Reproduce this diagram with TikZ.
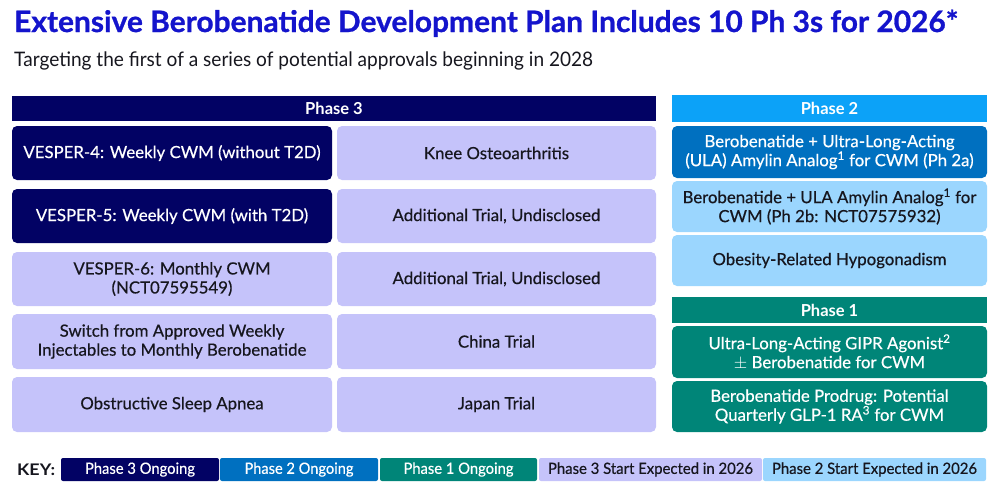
\documentclass[tikz,border=0pt]{standalone}
\usepackage{fontspec}
\usepackage{graphicx}
\setmainfont{Lato}
\newfontfamily\bodyfont{Lato}[FakeBold=0.45]
\definecolor{navy}{RGB}{2,2,100}
\definecolor{ptwo}{RGB}{0,112,192}
\definecolor{ptwohead}{RGB}{12,162,248}
\definecolor{lightblue}{RGB}{155,214,254}
\definecolor{teal}{RGB}{0,133,120}
\definecolor{lavender}{RGB}{197,195,250}
\definecolor{titleblue}{RGB}{20,20,204}
\definecolor{darktext}{RGB}{22,22,30}
\newcommand{\fitw}[2]{\resizebox{#1}{\height}{#2}}
\tikzset{
  cell/.style={rounded corners=5pt, inner sep=0pt, align=center,
    font=\fontsize{16.8}{19}\bodyfont},
  hdr/.style={inner sep=0pt, align=center, text=white,
    font=\fontsize{16.5}{19}\selectfont\bfseries},
  keybox/.style={rounded corners=2pt, inner sep=0pt, align=center,
    minimum height=23pt, font=\fontsize{15.5}{16}\bodyfont},
  dark/.style={fill=navy, text=white},
  mid/.style={fill=ptwo, text=white},
  tl/.style={fill=teal, text=white},
  lav/.style={fill=lavender, text=darktext},
  lb/.style={fill=lightblue, text=darktext},
}
\begin{document}
\begin{tikzpicture}[x=1pt,y=-1pt]
\useasboundingbox (0,0) rectangle (998,488);
% title
\node[anchor=base west, inner sep=0pt, text=titleblue,
  font=\fontsize{29.5}{32}\selectfont\bfseries\addfontfeature{FakeBold=0.9}] (title) at (14,32)
  {\fitw{944pt}{Extensive Berobenatide Development Plan Includes 10 Ph 3s for 2026*}};
\node[anchor=base west, inner sep=0pt, text=darktext,
  font=\fontsize{20}{22}\selectfont] (subtitle) at (14,66)
  {\fitw{579pt}{Targeting the first of a series of potential approvals beginning in 2028}};
% Phase 3 header
\node[hdr, fill=navy, minimum width=644pt, minimum height=25pt] (p3h) at (334,108.5) {Phase 3};
% Phase 3 left column
\node[cell, dark, minimum width=320pt, minimum height=54pt] (l1) at (172,153) {VESPER-4: Weekly CWM (without T2D)};
\node[cell, dark, minimum width=320pt, minimum height=54pt] (l2) at (172,216) {VESPER-5: Weekly CWM (with T2D)};
\node[cell, lav, minimum width=320pt, minimum height=54pt] (l3) at (172,279) {VESPER-6: Monthly CWM\\(NCT07595549)};
\node[cell, lav, minimum width=320pt, minimum height=55pt] (l4) at (172,341.5) {Switch from Approved Weekly\\Injectables to Monthly Berobenatide};
\node[cell, lav, minimum width=320pt, minimum height=55pt] (l5) at (172,404.5) {Obstructive Sleep Apnea};
% Phase 3 right column
\node[cell, lav, minimum width=319pt, minimum height=54pt] (r1) at (496.5,153) {Knee Osteoarthritis};
\node[cell, lav, minimum width=319pt, minimum height=54pt] (r2) at (496.5,216) {Additional Trial, Undisclosed};
\node[cell, lav, minimum width=319pt, minimum height=54pt] (r3) at (496.5,279) {Additional Trial, Undisclosed};
\node[cell, lav, minimum width=319pt, minimum height=55pt] (r4) at (496.5,341.5) {China Trial};
\node[cell, lav, minimum width=319pt, minimum height=55pt] (r5) at (496.5,404.5) {Japan Trial};
% Phase 2
\node[hdr, fill=ptwohead, minimum width=315pt, minimum height=27pt] (p2h) at (829.5,108.5) {Phase 2};
\node[cell, mid, minimum width=315pt, minimum height=52pt] (a1) at (829.5,152) {Berobenatide + Ultra-Long-Acting\\(ULA) Amylin Analog\textsuperscript{1} for CWM (Ph 2a)};
\node[cell, lb, minimum width=315pt, minimum height=51pt] (a2) at (829.5,206.5) {Berobenatide + ULA Amylin Analog\textsuperscript{1} for\\CWM (Ph 2b: NCT07575932)};
\node[cell, lb, minimum width=315pt, minimum height=51pt] (a3) at (829.5,260.5) {Obesity-Related Hypogonadism};
% Phase 1
\node[hdr, fill=teal, minimum width=315pt, minimum height=26pt] (p1h) at (829.5,310) {Phase 1};
\node[cell, tl, minimum width=315pt, minimum height=52pt] (b1) at (829.5,352) {Ultra-Long-Acting GIPR Agonist\textsuperscript{2}\\$\pm$ Berobenatide for CWM};
\node[cell, tl, minimum width=315pt, minimum height=51pt] (b2) at (829.5,406.5) {Berobenatide Prodrug: Potential\\Quarterly GLP-1 RA\textsuperscript{3} for CWM};
% Key
\node[anchor=west, inner sep=0pt, text=darktext, font=\fontsize{16}{16}\selectfont\bfseries] (key) at (17,469.5) {\fitw{38pt}{KEY:}};
\node[keybox, dark, minimum width=158pt] (k1) at (140,469.5) {\fitw{110pt}{Phase 3 Ongoing}};
\node[keybox, mid, minimum width=158pt] (k2) at (299,469.5) {\fitw{109pt}{Phase 2 Ongoing}};
\node[keybox, tl, minimum width=157pt] (k3) at (458.5,469.5) {\fitw{110pt}{Phase 1 Ongoing}};
\node[keybox, lav, minimum width=223pt] (k4) at (650.5,469.5) {\fitw{205pt}{Phase 3 Start Expected in 2026}};
\node[keybox, lb, minimum width=223pt] (k5) at (874.5,469.5) {\fitw{205pt}{Phase 2 Start Expected in 2026}};
\end{tikzpicture}
\end{document}
